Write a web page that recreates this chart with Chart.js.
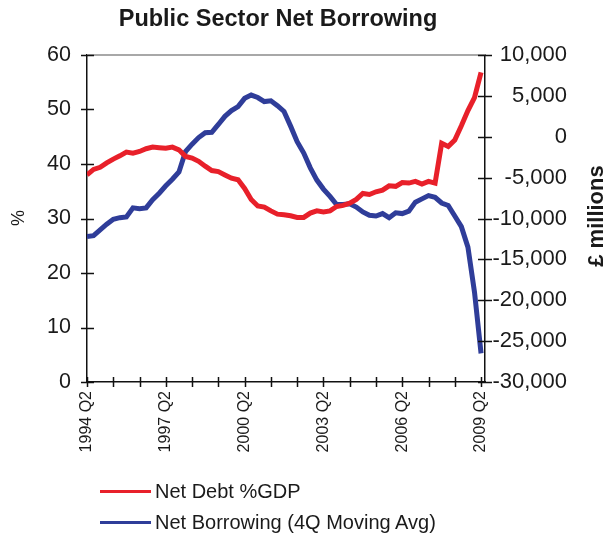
<!DOCTYPE html>
<html><head><meta charset="utf-8">
<script src="https://cdn.jsdelivr.net/npm/chart.js@4/dist/chart.umd.min.js"></script>
<style>
html,body{margin:0;padding:0;background:#fff;}
#wrap{position:relative;width:608px;height:536px;}
#legend{position:absolute;left:100px;top:476px;font-family:"Liberation Sans",Arial,sans-serif;font-size:20px;color:#1a1a1a;}
.item{display:flex;align-items:center;height:31px;}
.swatch{width:51px;height:3px;margin-right:4px;}
</style></head><body>
<div id="wrap"><canvas id="c" width="608" height="536"></canvas><div id="legend"></div></div>
<script>
const categories = [
'1994 Q2','1994 Q3','1994 Q4',
'1995 Q1','1995 Q2','1995 Q3','1995 Q4',
'1996 Q1','1996 Q2','1996 Q3','1996 Q4',
'1997 Q1','1997 Q2','1997 Q3','1997 Q4',
'1998 Q1','1998 Q2','1998 Q3','1998 Q4',
'1999 Q1','1999 Q2','1999 Q3','1999 Q4',
'2000 Q1','2000 Q2','2000 Q3','2000 Q4',
'2001 Q1','2001 Q2','2001 Q3','2001 Q4',
'2002 Q1','2002 Q2','2002 Q3','2002 Q4',
'2003 Q1','2003 Q2','2003 Q3','2003 Q4',
'2004 Q1','2004 Q2','2004 Q3','2004 Q4',
'2005 Q1','2005 Q2','2005 Q3','2005 Q4',
'2006 Q1','2006 Q2','2006 Q3','2006 Q4',
'2007 Q1','2007 Q2','2007 Q3','2007 Q4',
'2008 Q1','2008 Q2','2008 Q3','2008 Q4',
'2009 Q1','2009 Q2'];
const tickLabels = ['1994 Q2','1997 Q2','2000 Q2','2003 Q2','2006 Q2','2009 Q2'];
const netDebtPctGDP = [
38.0,39.0,39.4,40.2,40.9,41.5,42.2,42.0,42.3,42.8,43.1,43.0,42.9,43.1,42.6,41.4,
41.1,40.5,39.6,38.8,38.6,38.0,37.4,37.1,35.5,33.5,32.3,32.1,31.4,30.8,30.7,30.5,
30.2,30.2,31.0,31.4,31.2,31.4,32.2,32.4,32.8,33.5,34.6,34.4,34.9,35.2,36.0,35.9,
36.6,36.5,36.8,36.3,36.8,36.5,43.8,43.2,44.4,47.0,49.8,52.2,56.8];
const netBorrowing4Q = [
-12200,-12100,-11400,-10700,-10100,-9900,-9800,-8700,-8800,-8700,-7700,-6900,-6000,-5200,-4300,-1800,
-900,-100,500,550,1500,2500,3200,3700,4700,5100,4800,4300,4400,3800,3100,1300,
-600,-2000,-3800,-5300,-6400,-7300,-8300,-8300,-8200,-8600,-9200,-9600,-9700,-9400,-9900,-9300,
-9400,-9100,-8000,-7600,-7200,-7400,-8100,-8400,-9700,-11000,-13500,-19000,-26500];
const seriesNames = ['Net Debt %GDP','Net Borrowing (4Q Moving Avg)'];
const seriesColors = ['#e8202a','#2f3d99'];

const FONT = '"Liberation Sans", Arial, sans-serif';

const decor = {
  id: 'decor',
  beforeDatasetsDraw(chart) {
    const {ctx, chartArea: a} = chart;
    ctx.save();
    ctx.strokeStyle = '#a8a8a8'; ctx.lineWidth = 2;
    ctx.beginPath(); ctx.moveTo(a.left, a.top); ctx.lineTo(a.right, a.top); ctx.stroke();
    ctx.restore();
  },
  afterDraw(chart) {
    const {ctx, chartArea: a, scales: {x, y, y1}} = chart;
    ctx.save();
    ctx.strokeStyle = '#111'; ctx.lineWidth = 1.5;
    ctx.beginPath();
    x.ticks.forEach(t => { const p = Math.round(x.getPixelForValue(t.value)) + 0.5; ctx.moveTo(p, a.bottom - 5); ctx.lineTo(p, a.bottom + 5); });
    y.ticks.forEach(t => { const p = Math.round(y.getPixelForValue(t.value)) + 0.5; ctx.moveTo(a.left - 6, p); ctx.lineTo(a.left + 7, p); });
    y1.ticks.forEach(t => { const p = Math.round(y1.getPixelForValue(t.value)) + 0.5; ctx.moveTo(a.right - 7, p); ctx.lineTo(a.right + 7, p); });
    ctx.stroke();
    ctx.fillStyle = '#1a1a1a';
    ctx.font = 'bold 23.5px ' + FONT;
    ctx.textAlign = 'center'; ctx.textBaseline = 'middle';
    ctx.fillText('Public Sector Net Borrowing', (a.left + a.right) / 2 - 8, 20);
    ctx.save(); ctx.translate(19, 218); ctx.rotate(-Math.PI / 2);
    ctx.font = '18px ' + FONT; ctx.fillText('%', 0, 0); ctx.restore();
    ctx.save(); ctx.translate(597, 216); ctx.rotate(-Math.PI / 2);
    ctx.font = 'bold 22px ' + FONT; ctx.fillText('£ millions', 0, 0); ctx.restore();
    ctx.restore();
  }
};

const chart = new Chart(document.getElementById('c'), {
  type: 'line',
  data: {
    datasets: [
      { label: seriesNames[0], data: netDebtPctGDP.map((v, i) => ({x: i, y: v})), yAxisID: 'y',
        borderColor: seriesColors[0], backgroundColor: seriesColors[0], borderWidth: 5, pointRadius: 0, tension: 0 },
      { label: seriesNames[1], data: netBorrowing4Q.map((v, i) => ({x: i, y: v})), yAxisID: 'y1',
        borderColor: seriesColors[1], backgroundColor: seriesColors[1], borderWidth: 5, pointRadius: 0, tension: 0 }
    ]
  },
  options: {
    responsive: false, animation: false,
    layout: { padding: { top: 55, bottom: 74, left: 0, right: 41 } },
    plugins: { legend: { display: false }, title: { display: false }, tooltip: { enabled: false } },
    scales: {
      x: {
        type: 'linear', min: 0, max: 60.6,
        afterBuildTicks: s => { s.ticks = []; for (let i = 0; i < categories.length; i += 4) s.ticks.push({value: i}); },
        afterFit: s => { s.height = 80; },
        grid: { display: false, drawTicks: false },
        border: { display: true, color: '#111', width: 1.5 },
        ticks: { autoSkip: false, maxRotation: 90, minRotation: 90, padding: 9, color: '#1a1a1a',
          font: { family: FONT, size: 16 },
          callback: v => tickLabels.includes(categories[v]) ? categories[v] : '' }
      },
      y: {
        position: 'left', min: 0, max: 60,
        afterFit: s => { s.width = 87; },
        grid: { display: false, drawTicks: false },
        border: { display: true, color: '#111', width: 1.5 },
        ticks: { stepSize: 10, padding: 16, color: '#1a1a1a', font: { family: FONT, size: 21.5 } }
      },
      y1: {
        position: 'right', min: -30000, max: 10000,
        afterFit: s => { s.width = 82; },
        grid: { display: false, drawTicks: false },
        border: { display: true, color: '#111', width: 1.5 },
        ticks: { stepSize: 5000, padding: 3, crossAlign: 'far', color: '#1a1a1a', font: { family: FONT, size: 22 },
          callback: v => v.toLocaleString('en-US') }
      }
    }
  },
  plugins: [decor]
});

const leg = document.getElementById('legend');
chart.data.datasets.forEach(ds => {
  const it = document.createElement('div'); it.className = 'item';
  const sw = document.createElement('span'); sw.className = 'swatch'; sw.style.background = ds.borderColor;
  const tx = document.createElement('span'); tx.textContent = ds.label;
  it.appendChild(sw); it.appendChild(tx); leg.appendChild(it);
});
</script>
</body></html>
